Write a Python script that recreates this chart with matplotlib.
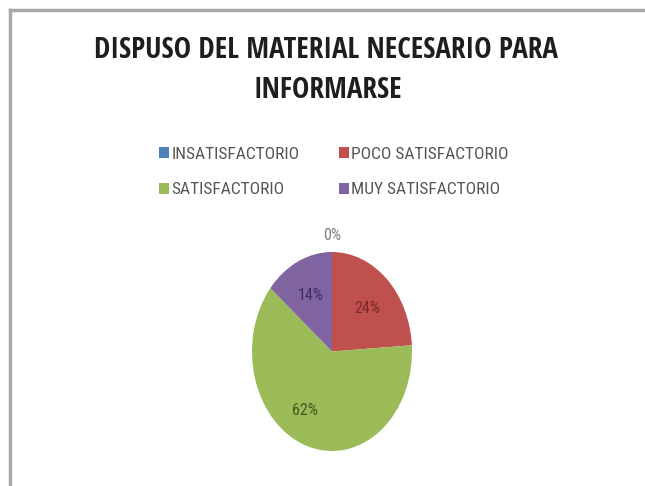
import matplotlib
matplotlib.use("Agg")
import matplotlib.pyplot as plt
from matplotlib.lines import Line2D
import numpy as np

categories = ["INSATISFACTORIO", "POCO SATISFACTORIO", "SATISFACTORIO", "MUY SATISFACTORIO"]
values = [0, 24, 62, 14]
colors = ["#4F81BD", "#C0504D", "#9BBB59", "#8064A2"]
label_colors = ["#7f7f7f", "#7a2a28", "#3e5a1c", "#3d2d63"]
title_lines = ["DISPUSO DEL MATERIAL NECESARIO PARA", "INFORMARSE"]

TITLE_FONT = ["Open Sans Condensed", "DejaVu Sans"]
BODY_FONT = ["Roboto Condensed", "DejaVu Sans"]
plt.rcParams["font.family"] = BODY_FONT

W, H = 645, 486
fig = plt.figure(figsize=(W / 100, H / 100), dpi=100)
fig.patch.set_facecolor("white")

# frame edges (left and top)
fig.add_artist(Line2D([9.5 / W, 9.5 / W], [0, 1 - 10 / H], color="#a8a8a8", lw=2.5))
fig.add_artist(Line2D([9.5 / W, 1], [1 - 10 / H, 1 - 10 / H], color="#a8a8a8", lw=2.5))

fig.text(326 / W, 1 - 50 / H, title_lines[0], ha="center", va="center",
         fontsize=21, fontweight="bold", color="#1e1e1e", family=TITLE_FONT)
fig.text(328 / W, 1 - 91 / H, title_lines[1], ha="center", va="center",
         fontsize=21, fontweight="bold", color="#1e1e1e", family=TITLE_FONT)

ax = fig.add_axes([252 / W, 1 - 451 / H, 160 / W, 199 / H])
wedges, _ = ax.pie(values, colors=colors, startangle=90, counterclock=False,
                   wedgeprops=dict(linewidth=0))
ax.set_aspect("auto")
ax.set_xlim(-1, 1)
ax.set_ylim(-1, 1)
ax.axis("off")

# percentage labels: radius and angle nudge (degrees) along each wedge's mid-angle
label_radius = [1.17, 0.62, 0.68, 0.62]
label_nudge = [0, -2, -12, 0]
total = sum(values)
start = 90.0
for v, c, r, d in zip(values, label_colors, label_radius, label_nudge):
    sweep = 360.0 * v / total
    mid = np.deg2rad(start - sweep / 2 + d)
    ax.text(r * np.cos(mid), r * np.sin(mid), f"{v}%", ha="center", va="center",
            fontsize=11.5, color=c, clip_on=False)
    start -= sweep

# legend laid out row by row (two columns)
order = [0, 2, 1, 3]
fig.legend([wedges[i] for i in order], [categories[i] for i in order],
           loc="center", bbox_to_anchor=(334 / W, 1 - 172 / H),
           ncol=2, frameon=False, fontsize=12.5, handlelength=0.55, handleheight=0.55,
           handletextpad=0.15, columnspacing=2.3, labelspacing=1.2,
           labelcolor="#555555")

fig.savefig("out.png", dpi=100, facecolor="white")
